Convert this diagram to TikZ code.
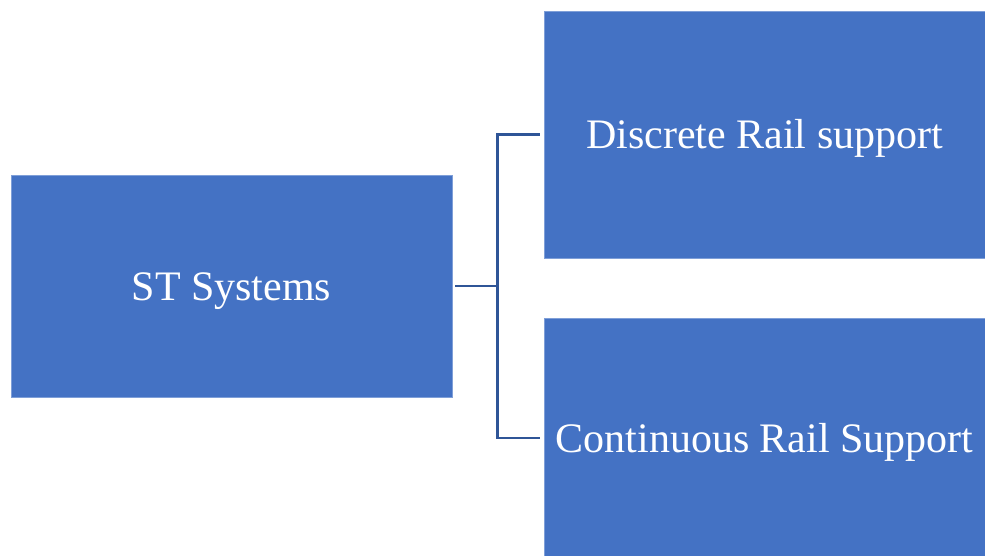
\documentclass[tikz,border=0pt]{standalone}
\usepackage{fontspec}
\setmainfont{Liberation Serif}
\definecolor{boxblue}{HTML}{4472C4}
\definecolor{boxedge}{HTML}{7F9FD8}
\definecolor{connblue}{HTML}{2F5597}
\begin{document}
\begin{tikzpicture}[x=1pt,y=-1pt,
  box/.style={rectangle, fill=boxblue, draw=boxedge, line width=0.6pt, inner sep=0pt,
    minimum width=#1, text=white, font=\fontsize{42}{50}\selectfont,
    text height=28pt, text depth=0pt},
  conn/.style={draw=connblue, line width=2.2pt}]
\useasboundingbox (0,0) rectangle (985,556);
\node[box=441pt, minimum height=222pt] (L) at (231.5,286) {ST Systems};
\node[box=441pt, minimum height=247pt] (D) at (764.5,134.5) {Discrete Rail support};
\begin{scope}
\clip (0,0) rectangle (985,556);
\node[box=441pt, minimum height=240pt] (C) at (764.5,438) {Continuous Rail Support};
\end{scope}
\coordinate (j) at (497.5,286);
\draw[conn] ([xshift=3pt]L.east) -- (j);
\draw[conn] ([xshift=-4pt]D.west) -| (j) |- ([xshift=-4pt]C.west);
\end{tikzpicture}
\end{document}
